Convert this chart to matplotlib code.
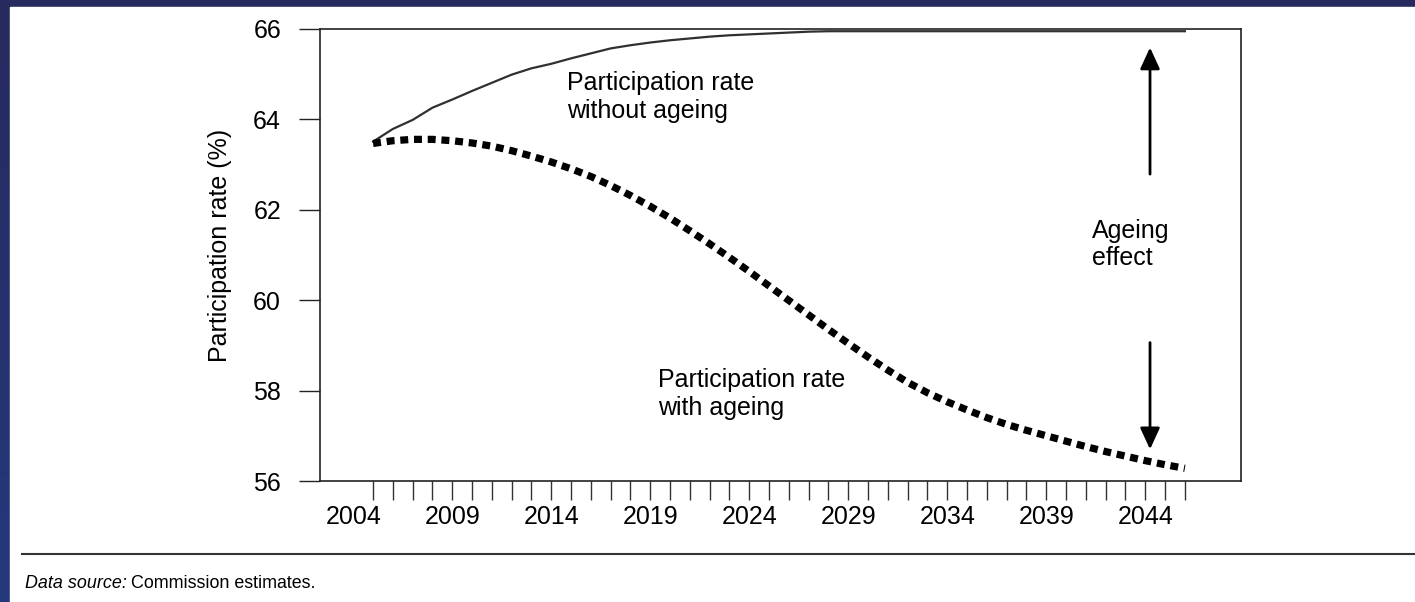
import matplotlib.pyplot as plt
import matplotlib.patches as patches
import numpy as np

# participation rate projections, one value a year
years = list(range(2005, 2047))

without_ageing = [63.50, 63.78, 63.98, 64.25, 64.43, 64.62, 64.80, 64.98, 65.12, 65.22,
                  65.34, 65.45, 65.56, 65.63, 65.69, 65.74, 65.78, 65.82, 65.85, 65.87,
                  65.89, 65.91, 65.93, 65.94, 65.94, 65.94, 65.94, 65.94, 65.94, 65.94,
                  65.94, 65.94, 65.94, 65.94, 65.94, 65.94, 65.94, 65.94, 65.94, 65.94,
                  65.94, 65.94]

with_ageing = [63.46, 63.52, 63.55, 63.55, 63.52, 63.47, 63.40, 63.30, 63.18, 63.05,
               62.90, 62.73, 62.53, 62.31, 62.07, 61.81, 61.53, 61.24, 60.94, 60.63,
               60.31, 59.99, 59.67, 59.35, 59.04, 58.74, 58.45, 58.18, 57.95, 57.75,
               57.57, 57.40, 57.25, 57.12, 57.00, 56.88, 56.76, 56.65, 56.55, 56.45,
               56.36, 56.28]

label_years = [2004, 2009, 2014, 2019, 2024, 2029, 2034, 2039, 2044]
y_ticks = [56, 58, 60, 62, 64, 66]


def main():
	plt.rcParams['font.family'] = ['Liberation Sans', 'DejaVu Sans']
	FS = 18

	fig = plt.figure(figsize=(14.15, 6.02), dpi=100)

	# slide background: navy gradient with a white page on top
	bg = fig.add_axes([0, 0, 1, 1], zorder=-10)
	grad = np.linspace(0, 1, 100).reshape(-1, 1)
	cmap = plt.matplotlib.colors.LinearSegmentedColormap.from_list('bg', ['#24397c', '#272a5e'])
	bg.imshow(grad, aspect='auto', extent=[0, 1, 0, 1], origin='lower', cmap=cmap)
	bg.add_patch(patches.Rectangle((10 / 1415, 0), 1, 1 - 7 / 602, color='white'))
	bg.set_xlim(0, 1)
	bg.set_ylim(0, 1)
	bg.axis('off')

	ax = fig.add_axes([320 / 1415, 1 - 481 / 602, 920.7 / 1415, 452.5 / 602])
	ax.plot(years, without_ageing, color='#303030', linewidth=1.6)
	ax.plot(years, with_ageing, color='black', linewidth=5.2, linestyle=(0, (1.1, 0.8)),
	        dash_capstyle='butt')

	ax.set_xlim(2002.32, 2048.82)
	ax.set_ylim(56, 66)

	ax.set_xticks(years)
	ax.set_xticklabels([])
	ax.set_xticks(label_years, minor=True)
	ax.set_xticklabels([str(y) for y in label_years], minor=True)
	ax.xaxis.remove_overlapping_locs = False
	ax.tick_params(axis='x', which='major', length=14, width=1, color='#333333', direction='out')
	ax.tick_params(axis='x', which='minor', length=0, pad=17, labelsize=FS)

	ax.set_yticks(y_ticks)
	ax.set_yticklabels([str(v) for v in y_ticks])
	ax.tick_params(axis='y', length=15, width=1, color='#222222', pad=13, labelsize=FS)

	for s in ax.spines.values():
		s.set_linewidth(1.2)
		s.set_color('#222222')

	ax.set_ylabel('Participation rate (%)', fontsize=FS)
	ax.yaxis.set_label_coords(-0.0956, 0.52)

	ax.text(0.268, 0.905, 'Participation rate\nwithout ageing', transform=ax.transAxes,
	        fontsize=FS, va='top', ha='left', linespacing=1.2)
	ax.text(0.367, 0.250, 'Participation rate\nwith ageing', transform=ax.transAxes,
	        fontsize=FS, va='top', ha='left', linespacing=1.2)
	ax.text(0.8385, 0.580, 'Ageing\neffect', transform=ax.transAxes,
	        fontsize=FS, va='top', ha='left', linespacing=1.2)

	arrow = dict(arrowstyle='-|>,head_length=1.3,head_width=0.6', color='black', linewidth=2)
	ax.annotate('', xy=(2044.24, 65.64), xytext=(2044.24, 62.72), arrowprops=arrow)
	ax.annotate('', xy=(2044.24, 56.64), xytext=(2044.24, 59.12), arrowprops=arrow)

	# source note under a rule
	fig.add_artist(plt.Line2D([22 / 1415, 1], [1 - 553.5 / 602] * 2, color='#333333', linewidth=1.5))
	src = fig.text(25 / 1415, 1 - 588 / 602, 'Data source:', fontsize=12.9, style='italic', va='baseline')
	fig.canvas.draw()
	bb = src.get_window_extent()
	fig.text(bb.x1 / 1415 + 4 / 1415, 1 - 588 / 602, 'Commission estimates.', fontsize=12.9, va='baseline')

	plt.savefig('out.png', dpi=100)


if __name__ == "__main__":main()
